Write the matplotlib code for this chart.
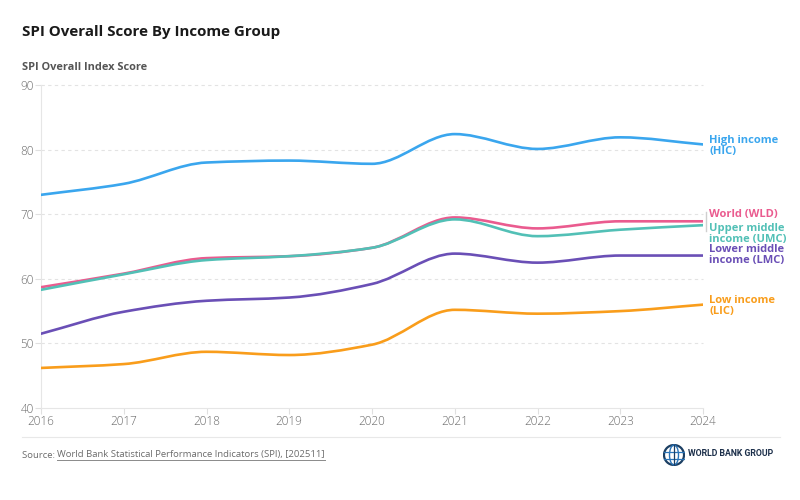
import numpy as np
import matplotlib.pyplot as plt
from matplotlib.path import Path
from matplotlib.patches import PathPatch, Circle, Ellipse
from matplotlib.lines import Line2D

# Data
years = [2016, 2017, 2018, 2019, 2020, 2021, 2022, 2023, 2024]
hic = [73.0, 74.7, 78.0, 78.3, 77.8, 82.4, 80.1, 81.9, 80.8]
wld = [58.7, 60.8, 63.2, 63.5, 64.8, 69.5, 67.8, 68.9, 68.9]
umc = [58.3, 60.7, 62.9, 63.5, 64.8, 69.2, 66.6, 67.6, 68.3]
lmc = [51.5, 54.9, 56.6, 57.1, 59.2, 63.9, 62.5, 63.6, 63.6]
lic = [46.2, 46.8, 48.7, 48.2, 49.8, 55.2, 54.6, 55.0, 56.0]

series_names = ["High income\n(HIC)", "World (WLD)", "Upper middle\nincome (UMC)",
                "Lower middle\nincome (LMC)", "Low income\n(LIC)"]
series_values = [hic, wld, umc, lmc, lic]
colors = ["#3aa6ee", "#ea5b8f", "#52c0b6", "#6a4fb6", "#f99d1b"]
# label offsets (points) relative to the last data point
label_dy = [-1, 5, -6.5, 0.5, -1]

FONT = ["Open Sans", "DejaVu Sans"]
plt.rcParams["font.family"] = FONT


# Smooth monotone cubic path through the points (drawn as bezier segments)
def smooth_path(x, y):
    x = np.asarray(x, float)
    y = np.asarray(y, float)
    n = len(x)
    h = np.diff(x)
    d = np.diff(y) / h
    m = np.zeros(n)
    m[0], m[-1] = d[0], d[-1]
    for i in range(1, n - 1):
        if d[i - 1] * d[i] <= 0:
            m[i] = 0
        else:
            w1 = 2 * h[i] + h[i - 1]
            w2 = h[i] + 2 * h[i - 1]
            m[i] = (w1 + w2) / (w1 / d[i - 1] + w2 / d[i])
    verts = [(x[0], y[0])]
    codes = [Path.MOVETO]
    for i in range(n - 1):
        verts += [(x[i] + h[i] / 3, y[i] + m[i] * h[i] / 3),
                  (x[i + 1] - h[i] / 3, y[i + 1] - m[i + 1] * h[i] / 3),
                  (x[i + 1], y[i + 1])]
        codes += [Path.CURVE4] * 3
    return Path(verts, codes)


fig = plt.figure(figsize=(8, 5), dpi=100)
ax = fig.add_axes([41 / 800, 92 / 500, 662 / 800, 323 / 500])

for vals, col in zip(series_values, colors):
    ax.add_patch(PathPatch(smooth_path(years, vals), facecolor="none",
                           edgecolor=col, lw=1.9, capstyle="round", zorder=3))

ax.set_xlim(2016, 2024)
ax.set_ylim(40, 90)
ax.set_xticks(years)
ax.set_yticks([40, 50, 60, 70, 80, 90])
for yv in [50, 60, 70, 80, 90]:
    ax.axhline(yv, color="#e3e3e3", lw=0.8, ls=(0, (3, 3)), zorder=1, clip_on=False)

for s in ["top", "right"]:
    ax.spines[s].set_visible(False)
ax.spines["left"].set_color("#e6e6e6")
ax.spines["bottom"].set_color("#e6e6e6")
ax.tick_params(axis="both", colors="#e0e0e0", length=4, width=0.8,
               labelcolor="#6b6b6b", labelsize=8.5)
ax.tick_params(axis="x", pad=1)
ax.tick_params(axis="y", pad=1)
for lab in ax.get_xticklabels() + ax.get_yticklabels():
    lab.set_fontweight("light")

# end labels
for name, vals, col, dy in zip(series_names, series_values, colors, label_dy):
    ax.annotate(name, xy=(years[-1], vals[-1]), xytext=(4.5, dy),
                textcoords="offset points", ha="left", va="center",
                fontsize=8, fontweight="bold", color=col, linespacing=0.95,
                annotation_clip=False)

# small bracket next to World / UMC labels
fig.add_artist(Line2D([706 / 800, 706 / 800], [1 - 212 / 500, 1 - 231 / 500],
                      color="#cfcfcf", lw=1))

# titles
fig.text(22 / 800, 1 - 32 / 500, "SPI Overall Score By Income Group",
         fontsize=10.9, fontweight="bold", color="#1a1a1a", va="center")
fig.text(22 / 800, 1 - 68 / 500, "SPI Overall Index Score",
         fontsize=7.9, fontweight="bold", color="#555555", va="center")

# footer
fig.add_artist(Line2D([22 / 800, 780 / 800], [1 - 437 / 500, 1 - 437 / 500],
                      color="#e8e8e8", lw=0.8))
src1 = fig.text(22 / 800, 1 - 455 / 500, "Source: ", fontsize=6.8,
                color="#6b6b6b", va="center")
fig.canvas.draw()
r = fig.canvas.get_renderer()
bb = src1.get_window_extent(r)
src2 = fig.text(bb.x1 / 800, 1 - 455 / 500,
                "World Bank Statistical Performance Indicators (SPI), [202511]",
                fontsize=6.8, color="#6b6b6b", va="center")
fig.canvas.draw()
bb2 = src2.get_window_extent(r)
fig.add_artist(Line2D([bb2.x0 / 800, bb2.x1 / 800],
                      [(bb2.y0 - 0.5) / 500, (bb2.y0 - 0.5) / 500],
                      color="#8a8a8a", lw=0.7))

# World Bank Group logo
lax = fig.add_axes([663 / 800, 1 - 466 / 500, 22 / 800, 22 / 500])
lax.set_xlim(-1.1, 1.1)
lax.set_ylim(-1.1, 1.1)
lax.set_aspect("equal")
lax.axis("off")
lax.add_patch(Circle((0, 0), 1, fc="none", ec="#1c3f63", lw=1.6))
lax.add_patch(Ellipse((0, 0), 0.9, 2, fc="none", ec="#2a74b8", lw=1.0))
lax.plot([-1, 1], [0.35, 0.35], color="#2a74b8", lw=0.9)
lax.plot([-1, 1], [-0.35, -0.35], color="#2a74b8", lw=0.9)
lax.plot([0, 0], [-1, 1], color="#1c3f63", lw=0.9)
fig.text(688 / 800, 1 - 454 / 500, "WORLD BANK GROUP", fontsize=6.3,
         fontweight="bold", color="#1c2f4a", va="center", family=["Roboto", "DejaVu Sans"])

fig.savefig("out.png", dpi=100, facecolor="white")
